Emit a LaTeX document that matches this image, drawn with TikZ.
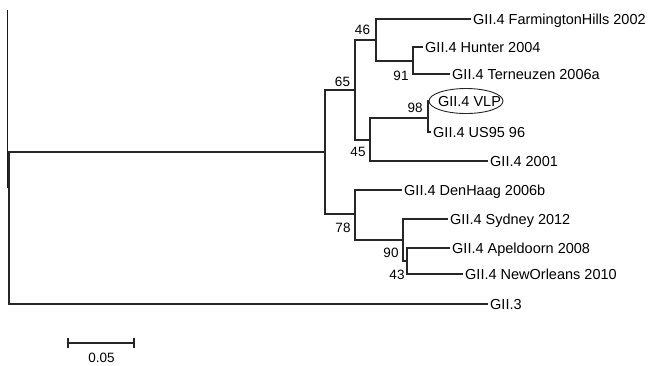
\documentclass[tikz,border=0pt]{standalone}
\usepackage{fontspec}
\setmainfont{Liberation Sans}
\usetikzlibrary{shapes.geometric}
\begin{document}
\begin{tikzpicture}[x=1pt,y=-1pt,
  branch/.style={draw=black!85, line width=1.1pt},
  leaf/.style={anchor=west, inner sep=2pt, text height=10.5pt, text depth=0pt, font=\fontsize{14.5}{16}\selectfont},
  boot/.style={inner sep=0pt, text height=9.7pt, text depth=0pt, font=\fontsize{13.5}{15}\selectfont},
  vlpbox/.style={draw=black!85, line width=0.9pt, ellipse, inner sep=0pt, minimum width=74pt, minimum height=25pt, text height=10.5pt, text depth=0pt, font=\fontsize{14.5}{16}\selectfont},
  ]
\useasboundingbox (0,0) rectangle (652,365);
% internal nodes
\coordinate (R) at (9,228);
\coordinate (A) at (325,152);
\coordinate (n65) at (355,90);
\coordinate (n46) at (376,40);
\coordinate (n91) at (413,61);
\coordinate (n45) at (370,140);
\coordinate (n98) at (428,118);
\coordinate (n78) at (355,214);
\coordinate (n90) at (403,240);
\coordinate (n43) at (407,261);
% leaves
\node[leaf] (fh) at (471,19) {GII.4 FarmingtonHills 2002};
\node[leaf] (hu) at (423,47) {GII.4 Hunter 2004};
\node[leaf] (te) at (450,74) {GII.4 Terneuzen 2006a};
\node[vlpbox] (vlp) at (466,101) {\makebox[40pt]{\kern7pt GII.4 VLP}};
\node[leaf] (us) at (431,132) {GII.4 US95 96};
\node[leaf] (y01) at (488,161) {GII.4 2001};
\node[leaf] (dh) at (402,190) {GII.4 DenHaag 2006b};
\node[leaf] (sy) at (448,219) {GII.4 Sydney 2012};
\node[leaf] (ap) at (450,248) {GII.4 Apeldoorn 2008};
\node[leaf] (no) at (463,274) {GII.4 NewOrleans 2010};
\node[leaf] (g3) at (488,304) {GII.3};
% branches
\draw[branch] (R) |- (A);
\draw[branch] (R) |- (g3.west);
\draw[branch] (A) |- (n65);
\draw[branch] (A) |- (n78);
\draw[branch] (n65) |- (n46);
\draw[branch] (n65) |- (n45);
\draw[branch] (n46) |- (fh.west);
\draw[branch] (n46) |- (n91);
\draw[branch] (n91) |- (hu.west);
\draw[branch] (n91) |- (te.west);
\draw[branch] (n45) |- (n98);
\draw[branch] (n45) |- (y01.west);
\draw[branch] (n98) |- (vlp.west);
\draw[branch] (n98) |- (us.west);
\draw[branch] (n78) |- (dh.west);
\draw[branch] (n78) |- (n90);
\draw[branch] (n90) |- (sy.west);
\draw[branch] (n90) |- (n43);
\draw[branch] (n43) |- (ap.west);
\draw[branch] (n43) |- (no.west);
% bootstrap values
\node[boot] (b46) at (362.5,30) {46};
\node[boot] (b91) at (401,76) {91};
\node[boot] (b65) at (342.5,81.5) {65};
\node[boot] (b98) at (415,108) {98};
\node[boot] (b45) at (358,152) {45};
\node[boot] (b78) at (343,228) {78};
\node[boot] (b90) at (391,253) {90};
\node[boot] (b43) at (397,275) {43};
% stray line at left edge
\draw[draw=black!90, line width=0.9pt] (7,10) -- (7,188);
% scale bar
\draw[branch] (68,343) -- (134,343);
\draw[branch] (68,338) -- (68,348);
\draw[branch] (134,338) -- (134,348);
\node[boot] (sbl) at (101.5,358) {0.05};
\end{tikzpicture}
\end{document}
